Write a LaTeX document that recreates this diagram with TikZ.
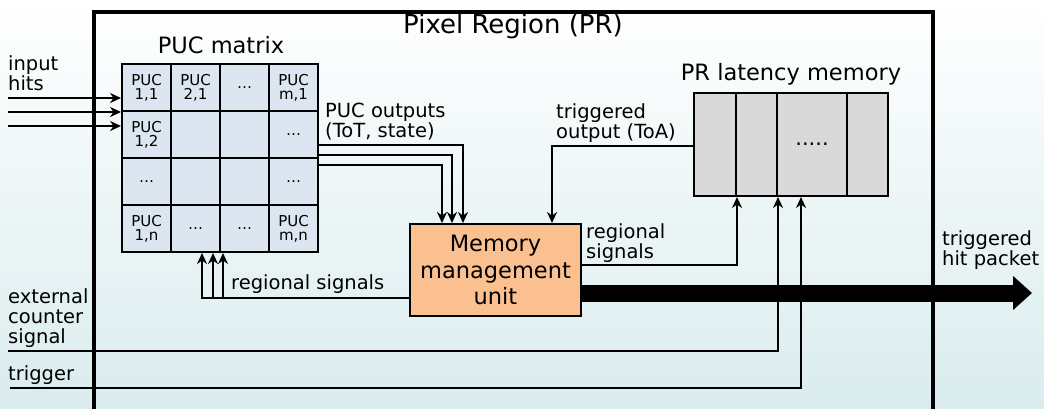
\documentclass[tikz,border=0pt]{standalone}
\usepackage{fontspec}
\setmainfont{DejaVu Sans}
\usetikzlibrary{arrows.meta}
\definecolor{cellblue}{RGB}{220,230,241}
\definecolor{mmuorange}{RGB}{250,192,144}
\definecolor{memgray}{RGB}{217,217,217}
\definecolor{bgteal}{RGB}{218,236,238}

\begin{document}
\begin{tikzpicture}[x=1pt, y=-1pt,
  cell/.style={draw, line width=2pt, fill=cellblue, minimum width=49pt, minimum height=47pt, inner sep=0pt, align=center, font=\fontsize{15}{14}\selectfont},
  memcell/.style={draw, line width=2pt, fill=memgray, minimum height=103pt, inner sep=0pt},
  lbl/.style={inner sep=0pt, align=left, anchor=base west, font=\fontsize{19.5}{20}\selectfont},
  head/.style={inner sep=0pt, anchor=base, font=\fontsize{22.5}{26}\selectfont},
  sig/.style={line width=2pt, -{Stealth[length=11pt, width=10pt]}},
  bus/.style={line width=17pt, -{Triangle[length=19pt, width=33pt]}}]
\useasboundingbox (0,0) rectangle (1044,408);
\shade[top color=white, bottom color=bgteal] (0,0) rectangle (1044,408);

% pixel region frame
\draw[line width=4pt] (94,410) -- (94,12) -- (933,12) -- (933,410);
\node[inner sep=0pt, anchor=base, font=\fontsize{26}{30}\selectfont] (prtitle) at (513,33) {Pixel Region (PR)};

% PUC matrix
\node[head] (mtitle) at (221,53) {PUC matrix};
\node[cell] (c11) at (146.5,87.5) {PUC\\1,1};
\node[cell] (c21) at (195.5,87.5) {PUC\\2,1};
\node[cell] (c31) at (244.5,87.5) {\dots};
\node[cell] (c41) at (293.5,87.5) {PUC\\m,1};
\node[cell] (c12) at (146.5,134.5) {PUC\\1,2};
\node[cell] (c22) at (195.5,134.5) {};
\node[cell] (c32) at (244.5,134.5) {};
\node[cell] (c42) at (293.5,134.5) {\dots};
\node[cell] (c13) at (146.5,181.5) {\dots};
\node[cell] (c23) at (195.5,181.5) {};
\node[cell] (c33) at (244.5,181.5) {};
\node[cell] (c43) at (293.5,181.5) {\dots};
\node[cell] (c14) at (146.5,228.5) {PUC\\1,n};
\node[cell] (c24) at (195.5,228.5) {\dots};
\node[cell] (c34) at (244.5,228.5) {\dots};
\node[cell] (c44) at (293.5,228.5) {PUC\\m,n};

% memory management unit
\node[draw, line width=2pt, fill=mmuorange, minimum width=171pt, minimum height=92pt, inner sep=0pt, align=center, font=\fontsize{22.5}{26.5}\selectfont] (mmu) at (495.5,270) {Memory\\management\\unit};

% PR latency memory
\node[head] (memtitle) at (791,80) {PR latency memory};
\node[memcell, minimum width=42pt] (mem1) at (715,144.5) {};
\node[memcell, minimum width=41pt] (mem2) at (756.5,144.5) {};
\node[memcell, minimum width=70pt, font=\fontsize{21}{20}\selectfont] (mem3) at (812,144.5) {.....};
\node[memcell, minimum width=41pt] (mem4) at (867.5,144.5) {};

% inputs
\coordinate (hit1) at (8,98);
\coordinate (hit2) at (8,112);
\coordinate (hit3) at (8,126);
\coordinate (ext) at (8,351);
\coordinate (trig) at (10,388);
\coordinate (pkt) at (1032,293);

\draw[sig] (hit1) -- (hit1 -| c11.west);
\draw[sig] (hit2) -- (hit2 -| c11.west);
\draw[sig] (hit3) -- (hit3 -| c11.west);

% PUC outputs
\draw[sig] (c42.east |- 0,145) -| ([xshift=-32.5pt]mmu.north);
\draw[sig] (c42.east |- 0,155) -| ([xshift=-43.5pt]mmu.north);
\draw[sig] (c43.east |- 0,165) -| ([xshift=-53.5pt]mmu.north);

% triggered output
\draw[sig] (mem1.west |- 0,146) -| ([xshift=56.5pt]mmu.north);

% regional signals
\draw[sig] (mmu.east |- 0,265) -| (mem1.south east);
\draw[sig] (mmu.west |- 0,298) -| ([xshift=6.5pt]c24.south);
\draw[sig] ([xshift=17.5pt]c24.south |- 0,298) -- ([xshift=17.5pt]c24.south);
\draw[sig] ([xshift=-21.5pt]c34.south |- 0,298) -- ([xshift=-21.5pt]c34.south);

% counter and trigger
\draw[sig] (ext) -| ([xshift=2pt]mem3.south west);
\draw[sig] (trig) -| ([xshift=25pt]mem3.south west);

% hit packet out
\draw[bus] (mmu.east |- pkt) -- (pkt);

% labels
\node[lbl] (lhits) at (8,90) {input\\hits};
\node[lbl] (lpuc) at (325,137) {PUC outputs\\(ToT, state)};
\node[lbl] (ltoa) at (556,138) {triggered\\output (ToA)};
\node[lbl] (lregr) at (586,258) {regional\\signals};
\node[lbl] (lregl) at (231,289) {regional signals};
\node[lbl] (lext) at (8,343) {external\\counter\\signal};
\node[lbl] (ltrig) at (8,380) {trigger};
\node[lbl] (lpkt) at (942,265) {triggered\\hit packet};
\end{tikzpicture}
\end{document}
